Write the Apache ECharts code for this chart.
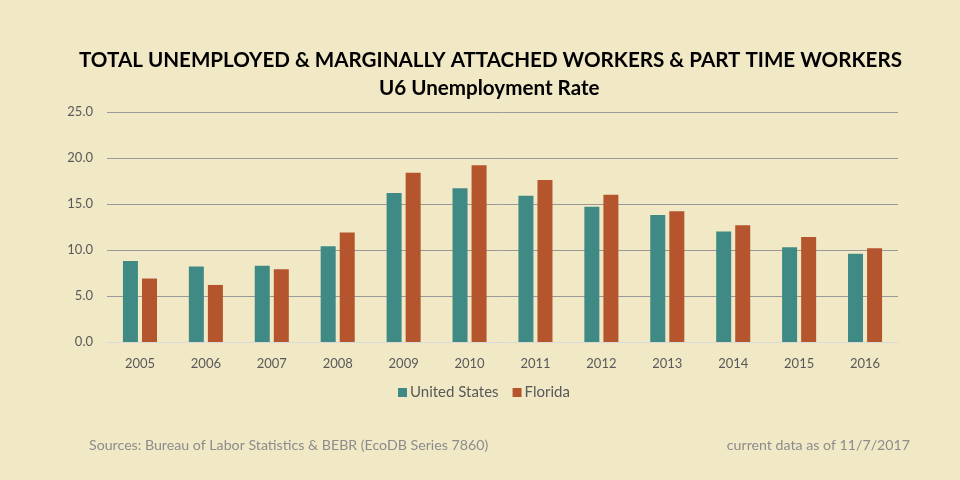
<!doctype html>
<html>
<head>
<meta charset="utf-8">
<script src="https://cdn.jsdelivr.net/npm/echarts@6/dist/echarts.min.js"></script>
<style>
    html, body { margin: 0; padding: 0; background: #f1e8c6; }
    #chart { width: 960px; height: 480px; }
</style>
</head>
<body>
<div id="chart"></div>
<script>
// data
var years = ['2005','2006','2007','2008','2009','2010','2011','2012','2013','2014','2015','2016'];
var usRate = [8.8, 8.2, 8.3, 10.4, 16.2, 16.7, 15.9, 14.7, 13.8, 12.0, 10.3, 9.6];
var flRate = [6.9, 6.2, 7.9, 11.9, 18.4, 19.2, 17.6, 16.0, 14.2, 12.7, 11.4, 10.2];
var seriesNames = ['United States', 'Florida'];

var font = 'Lato, "Open Sans", sans-serif';
var myChart = echarts.init(document.getElementById('chart'));

var option = {
    backgroundColor: '#f1e8c6',
    animation: false,
    title: [{
        text: 'TOTAL UNEMPLOYED & MARGINALLY ATTACHED WORKERS & PART TIME WORKERS',
        left: 74,
        top: 45,
        textStyle: { fontFamily: font, fontWeight: 'bold', fontSize: 20.6, color: '#000' }
    }, {
        text: 'U6 Unemployment Rate',
        left: 374,
        top: 73,
        textStyle: { fontFamily: font, fontWeight: 'bold', fontSize: 20.6, color: '#000' }
    }, {
        text: 'Sources: Bureau of Labor Statistics & BEBR (EcoDB Series 7860)',
        left: 84,
        top: 433,
        textStyle: { fontFamily: font, fontWeight: 'normal', fontSize: 14.2, color: '#8c8c8c' }
    }, {
        text: 'current data as of 11/7/2017',
        right: 45,
        top: 433,
        textStyle: { fontFamily: font, fontWeight: 'normal', fontSize: 14.2, color: '#8c8c8c' }
    }],
    legend: {
        data: seriesNames,
        bottom: 75,
        left: 393,
        itemWidth: 9,
        itemHeight: 9,
        itemGap: 14,
        icon: 'rect',
        textStyle: { fontFamily: font, fontSize: 15, color: '#595959', padding: [0, 0, 0, -2] }
    },
    grid: { left: 107, right: 62, top: 112, bottom: 138, containLabel: false },
    xAxis: {
        type: 'category',
        data: years,
        axisLine: { lineStyle: { color: '#d9d9d9', width: 1 } },
        axisTick: { show: false },
        axisLabel: { fontFamily: font, fontSize: 13, color: '#595959', margin: 15 }
    },
    yAxis: {
        type: 'value',
        min: 0,
        max: 25,
        interval: 5,
        axisLine: { show: false },
        axisTick: { show: false },
        axisLabel: {
            fontFamily: font, fontSize: 13, color: '#595959', margin: 14,
            formatter: function (v) { return v.toFixed(1); }
        },
        splitLine: { lineStyle: { color: '#999999', width: 1 } }
    },
    series: [{
        name: seriesNames[0],
        type: 'bar',
        data: usRate,
        barWidth: 15,
        barGap: '27%',
        itemStyle: { color: '#3f8a84' }
    }, {
        name: seriesNames[1],
        type: 'bar',
        data: flRate,
        barWidth: 15,
        barGap: '27%',
        itemStyle: { color: '#b5552e' }
    }]
};

myChart.setOption(option);
</script>
</body>
</html>
